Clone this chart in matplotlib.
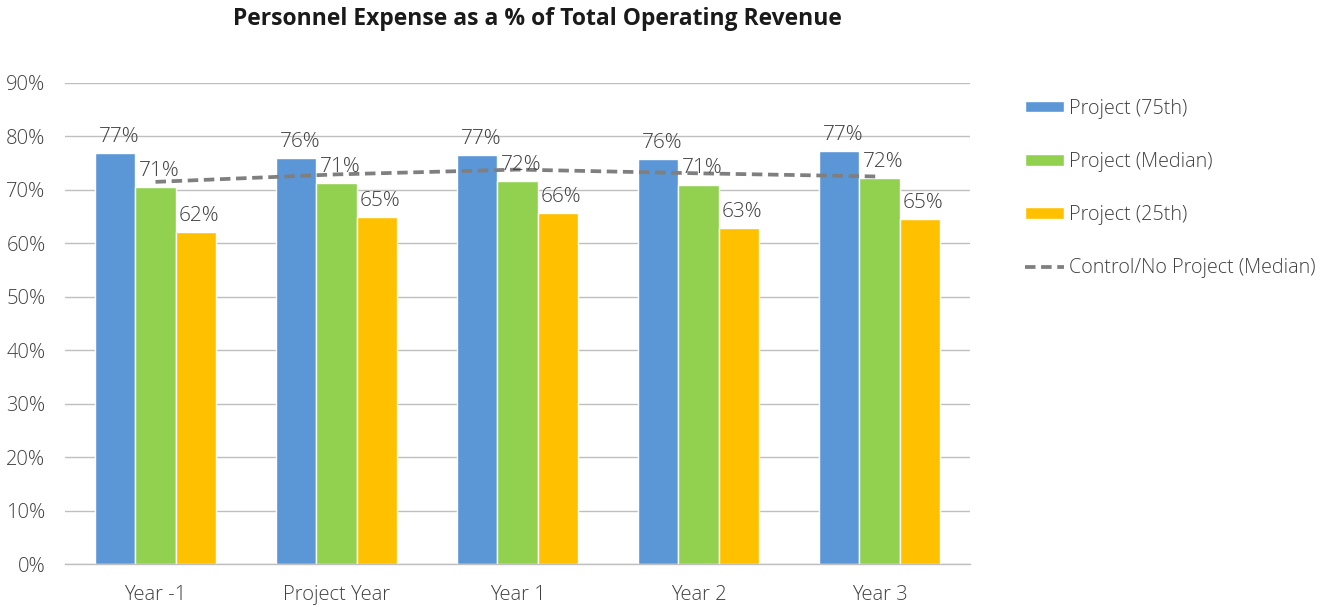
import matplotlib
matplotlib.use("Agg")
import matplotlib.pyplot as plt
import numpy as np
from matplotlib.ticker import PercentFormatter

categories = ["Year -1", "Project Year", "Year 1", "Year 2", "Year 3"]
p75 = [0.769, 0.759, 0.766, 0.757, 0.773]
p50 = [0.706, 0.712, 0.716, 0.710, 0.722]
p25 = [0.621, 0.649, 0.656, 0.629, 0.646]
control = [0.715, 0.729, 0.738, 0.731, 0.725]
series_names = ["Project (75th)", "Project (Median)", "Project (25th)", "Control/No Project (Median)"]
yticks = [0, 0.1, 0.2, 0.3, 0.4, 0.5, 0.6, 0.7, 0.8, 0.9]

colors = ["#5b97d6", "#92d050", "#ffc000"]
FONT = ["Open Sans", "DejaVu Sans"]
WEIGHT = "light"
plt.rcParams["font.family"] = FONT

fig = plt.figure(figsize=(13.33, 6.07), dpi=100)
ax = fig.add_axes([65/1333, 43/607, 905/1333, 481/607])

x = np.arange(len(categories))
w = 0.221
text_color = "#404040"
for i, (vals, c, name) in enumerate(zip([p75, p50, p25], colors, series_names[:3])):
    pos = x + (i - 1) * w
    ax.bar(pos, vals, width=w, color=c, edgecolor="white", linewidth=1, label=name, zorder=2)
    for xp, v in zip(pos, vals):
        ax.annotate(f"{v:.0%}", (xp + 0.02, v), xytext=(0, 8), textcoords="offset points",
                    ha="center", va="baseline", fontsize=15, color=text_color,
                    fontweight=WEIGHT, zorder=4)

ax.plot(x, control, color="#7f7f7f", linewidth=2.7, linestyle=(0, (2.8, 1.5)),
        label=series_names[3], zorder=3)

ax.set_xlim(-0.5, len(categories) - 0.5)
ax.set_ylim(0, 0.9)
ax.set_yticks(yticks)
ax.yaxis.set_major_formatter(PercentFormatter(1.0, decimals=0))
ax.set_xticks(x)
ax.set_xticklabels(categories)
ax.tick_params(axis="both", length=0, labelsize=14.5, labelcolor=text_color)
ax.tick_params(axis="y", pad=14)
ax.tick_params(axis="x", pad=15)
for lab in ax.get_xticklabels() + ax.get_yticklabels():
    lab.set_fontweight(WEIGHT)
ax.grid(axis="y", color="#bfbfbf", linewidth=1, zorder=0)
ax.set_axisbelow(True)
for s in ["top", "right", "left"]:
    ax.spines[s].set_visible(False)
ax.spines["bottom"].set_color("#bfbfbf")
ax.spines["bottom"].set_linewidth(1)

handles, labels = ax.get_legend_handles_labels()
order = [1, 2, 3, 0]
leg = fig.legend([handles[i] for i in order], [labels[i] for i in order],
                 loc="upper left", bbox_to_anchor=(1007/1333, 1 - 81/607),
                 frameon=False, fontsize=14.2, labelspacing=1.68,
                 handlelength=2.0, handleheight=0.5, handletextpad=0.25)
for t in leg.get_texts():
    t.set_color(text_color)
    t.set_fontweight(WEIGHT)

fig.text(537/1333, 1 - 19/607, "Personnel Expense as a % of Total Operating Revenue",
         ha="center", va="center", fontsize=16.5, fontweight="bold", color="#1a1a1a",
         family=["Open Sans", "DejaVu Sans"])

fig.savefig("out.png", dpi=100)
